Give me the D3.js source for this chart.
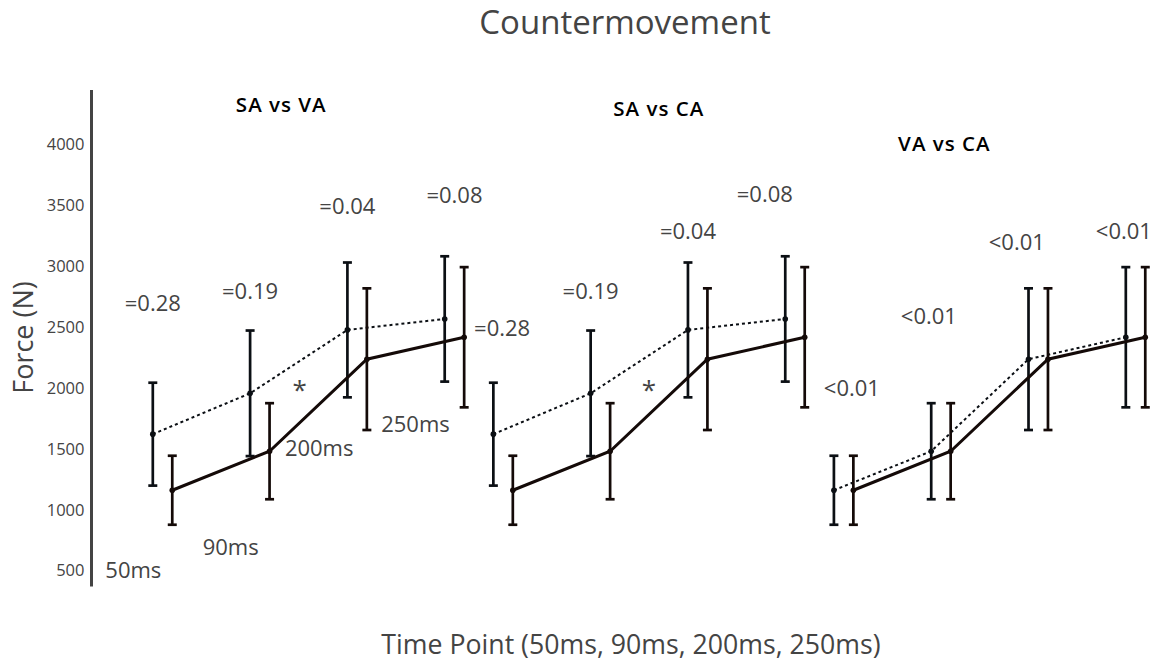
<!DOCTYPE html>
<html>
<head>
<meta charset="utf-8">
<script src="https://cdn.jsdelivr.net/npm/d3@7"></script>
<style>
    body { margin: 0; background: #fff; }
    text { font-family: "Open Sans", sans-serif; }
</style>
</head>
<body>
<div id="chart"></div>
<script>

// time points (labels) and the mean / error values
let timeLabels = ["50ms", "90ms", "200ms", "250ms"];

let saMean = [1620, 1955, 2475, 2565];
let saErr  = [422, 515, 553, 514];
let vaMean = [1160, 1480, 2235, 2415];
let vaErr  = [283, 394, 581, 575];
let caMean = [1160, 1480, 2235, 2415];
let caErr  = [283, 394, 581, 575];

let panelTitles = ["SA vs VA", "SA vs CA", "VA vs CA"];
// which condition is dotted / solid in each panel
let panelDotted = ["SA", "SA", "VA"];
let panelSolid  = ["VA", "CA", "CA"];

// p-value labels per panel: [time index offset, force, text]
let pLabels = [
    [[0, 2690, "=0.28"], [1, 2790, "=0.19"], [2, 3485, "=0.04"], [3.1, 3580, "=0.08"]],
    [[0.09, 2490, "=0.28"], [1, 2795, "=0.19"], [2, 3285, "=0.04"], [2.79, 3585, "=0.08"]],
    [[0.185, 2000, "<0.01"], [0.976, 2590, "<0.01"], [1.88, 3195, "<0.01"], [2.98, 3280, "<0.01"]]
];
let starLabels = [[0, 1.51, 2035], [1, 1.6, 2035]];
let msLabels = [[-0.2, 500], [0.8, 695], [1.71, 1500], [2.7, 1700]];
let titleSpots = [[1.32, 4320], [1.7, 4290], [1.135, 4005]];
let yTicks = [500, 1000, 1500, 2000, 2500, 3000, 3500, 4000];

let series = {
    SA: {mean: saMean, err: saErr},
    VA: {mean: vaMean, err: vaErr},
    CA: {mean: caMean, err: caErr}
};

let width = 1155, height = 661;
let panelShift = 3.5, pairShift = 0.2;

let svg = d3.select("#chart").append("svg")
    .attr("width", width)
    .attr("height", height);

let x = d3.scaleLinear().domain([-0.63, 10.3]).range([91.5, 1155]);
let y = d3.scaleLinear().domain([500, 4000]).range([570.7, 144]);

// y axis
let yAxis = svg.append("g")
    .attr("transform", `translate(${x(-0.63)},0)`)
    .call(d3.axisLeft(y).tickValues(yTicks).tickSize(0).tickPadding(7).tickFormat(d3.format("d")));
yAxis.select(".domain")
    .attr("d", `M0,${y(4443)}V${y(370)}`)
    .attr("stroke", "#444")
    .attr("stroke-width", 3);
yAxis.selectAll(".tick text")
    .attr("fill", "#444")
    .style("font-family", "Open Sans")
    .style("font-size", "16.5px");

// titles
svg.append("text")
    .attr("x", 625).attr("y", 34)
    .attr("text-anchor", "middle")
    .attr("fill", "#444")
    .style("font-size", "33px")
    .text("Countermovement");

svg.append("text")
    .attr("transform", "translate(33,337.5) rotate(-90)")
    .attr("text-anchor", "middle")
    .attr("fill", "#444")
    .style("font-size", "27px")
    .text("Force (N)");

svg.append("text")
    .attr("x", 631).attr("y", 654)
    .attr("text-anchor", "middle")
    .attr("fill", "#444")
    .style("font-size", "26.7px")
    .text("Time Point (50ms, 90ms, 200ms, 250ms)");

let line = d3.line().x(d => x(d.x)).y(d => y(d.y));

panelTitles.forEach((title, p) => {
    let g = svg.append("g").attr("class", "panel");
    let base = p * panelShift;

    // dotted first, solid second
    [[panelDotted[p], 0, "#0b0f14", 2, "3,3"], [panelSolid[p], pairShift, "#140a08", 3, null]]
        .forEach(([key, off, color, lw, dash]) => {
            let s = series[key];
            let pts = s.mean.map((m, i) => ({x: base + i + off, y: m, e: s.err[i]}));

            g.append("path")
                .datum(pts)
                .attr("fill", "none")
                .attr("stroke", color)
                .attr("stroke-width", lw)
                .attr("stroke-dasharray", dash)
                .attr("d", line);

            // error bars
            let eb = g.selectAll(null).data(pts).enter().append("g");
            eb.append("line")
                .attr("x1", d => x(d.x)).attr("x2", d => x(d.x))
                .attr("y1", d => y(d.y + d.e)).attr("y2", d => y(d.y - d.e))
                .attr("stroke", color).attr("stroke-width", 2.7);
            [1, -1].forEach(sg => {
                eb.append("line")
                    .attr("x1", d => x(d.x) - 4.5).attr("x2", d => x(d.x) + 4.5)
                    .attr("y1", d => y(d.y + sg * d.e)).attr("y2", d => y(d.y + sg * d.e))
                    .attr("stroke", color).attr("stroke-width", 2.7);
            });
            eb.append("circle")
                .attr("cx", d => x(d.x)).attr("cy", d => y(d.y))
                .attr("r", 2.8)
                .attr("fill", color);
        });

    // panel title
    g.append("text")
        .attr("x", x(base + titleSpots[p][0]))
        .attr("y", y(titleSpots[p][1]))
        .attr("dy", "0.35em")
        .attr("text-anchor", "middle")
        .attr("fill", "#000")
        .style("font-size", "20.5px")
        .style("font-weight", 600)
        .style("letter-spacing", "1px")
        .text(title);

    // p-values
    g.selectAll(".pval").data(pLabels[p]).enter().append("text")
        .attr("class", "pval")
        .attr("x", d => x(base + d[0]))
        .attr("y", d => y(d[1]))
        .attr("dy", "0.35em")
        .attr("text-anchor", "middle")
        .attr("fill", "#444")
        .style("font-size", "22px")
        .text(d => d[2]);
});

// significance stars
svg.selectAll(".star").data(starLabels).enter().append("text")
    .attr("x", d => x(d[0] * panelShift + d[1]))
    .attr("y", d => y(d[2]))
    .attr("dy", "0.6em")
    .attr("text-anchor", "middle")
    .attr("fill", "#444")
    .style("font-size", "26px")
    .text("*");

// time point labels in first panel
svg.selectAll(".ms").data(msLabels).enter().append("text")
    .attr("x", d => x(d[0]))
    .attr("y", d => y(d[1]))
    .attr("dy", "0.35em")
    .attr("text-anchor", "middle")
    .attr("fill", "#444")
    .style("font-size", "22px")
    .text((d, i) => timeLabels[i]);

</script>
</body>
</html>
